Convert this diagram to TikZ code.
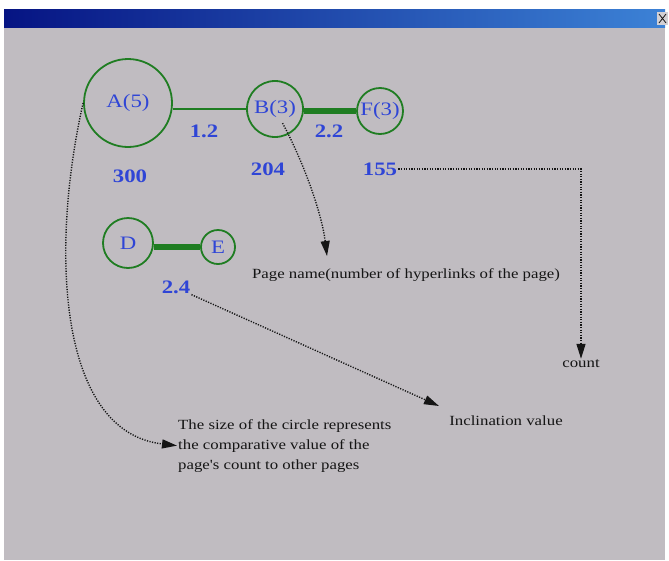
\documentclass[tikz,border=0pt]{standalone}
\usepackage{fontspec}
\setmainfont{Liberation Serif}
\newfontfamily\etiqueta[FakeStretch=1.2]{Liberation Serif}
\newfontfamily\textonota[FakeStretch=1.2]{Liberation Serif}
\usepackage{tikz}
\usetikzlibrary{arrows.meta,calc,positioning}
\definecolor{fondo}{HTML}{C0BCC1}
\definecolor{barra1}{HTML}{061483}
\definecolor{barra2}{HTML}{3C82D6}
\definecolor{verde}{HTML}{1F7D22}
\definecolor{azul}{HTML}{2F45D6}
\definecolor{tinta}{HTML}{151515}
\tikzset{
  pagina/.style={circle,draw=verde,line width=1.8pt,inner sep=0pt,text=azul,font=\etiqueta\fontsize{19}{21}\selectfont},
  enlace/.style={draw=verde,line width=2.4pt},
  enlacegrueso/.style={draw=verde,line width=5.5pt},
  valor/.style={text=azul,font=\etiqueta\bfseries\fontsize{19}{21}\selectfont,inner sep=1pt},
  nota/.style={text=tinta,font=\textonota\fontsize{14}{20}\selectfont,inner sep=1pt},
  flecha/.style={draw=tinta,line width=1.4pt,dash pattern=on 1.2pt off 1.4pt,-{Triangle[length=15pt,width=9pt]}},
}
\begin{document}
\begin{tikzpicture}[x=1pt,y=-1pt]
\useasboundingbox (0,0) rectangle (669,560);
\fill[white] (0,0) rectangle (669,560);
\fill[fondo] (4,27) rectangle (665,560);
\shade[left color=barra1,right color=barra2] (4,9) rectangle (665,27);
\fill[fondo!70!white] (657,12) rectangle (668,25);
\draw[tinta,line width=0.8pt] (659,14) -- (666,23) (666,14) -- (659,23);
\coordinate (pn) at (327,256);
\coordinate (pi) at (439,406);
\node[pagina,minimum size=88pt] (A) at (128,103) {A(5)};
\node[pagina,minimum size=56pt] (B) at (275,109) {B(3)};
\node[pagina,minimum size=46pt] (F) at (380,111) {F(3)};
\node[pagina,minimum size=50pt] (D) at (128,243) {D};
\node[pagina,minimum size=34pt] (E) at (218,247) {E};
\draw[enlace] (B.west) -- (A.east |- B.west);
\draw[enlacegrueso] (B.east |- F.west) -- (F.west);
\draw[enlacegrueso] (D.east |- E.west) -- (E.west);
\node[valor] (wAB) at (204,131) {1.2};
\node[valor] (wBF) at (329,131) {2.2};
\node[valor] (wDE) at (176,287) {2.4};
\node[valor] (cA) at (130,176) {300};
\node[valor] (cB) at (268,169) {204};
\node[valor] (cF) at (380,169) {155};
\node[nota] (nombre) at (406,275) {Page name(number of hyperlinks of the page)};
\node[nota] (cnt) at (581,364) {count};
\node[nota] (incl) at (506,421) {Inclination value};
\node[nota,align=left,anchor=north west] (tam) at (177,418) {The size of the circle represents\\the comparative value of the\\page's count to other pages};
\draw[flecha] (A.west) .. controls (50,250) and (58,432) .. (tam.west);
\draw[flecha,shorten <=16pt] (B.center) .. controls (305,165) and (322,215) .. (pn);
\draw[flecha] (cF.east) -- (cF.east -| cnt.north) -- (cnt.north);
\draw[flecha] (wDE.south east) -- (pi);
\end{tikzpicture}
\end{document}
